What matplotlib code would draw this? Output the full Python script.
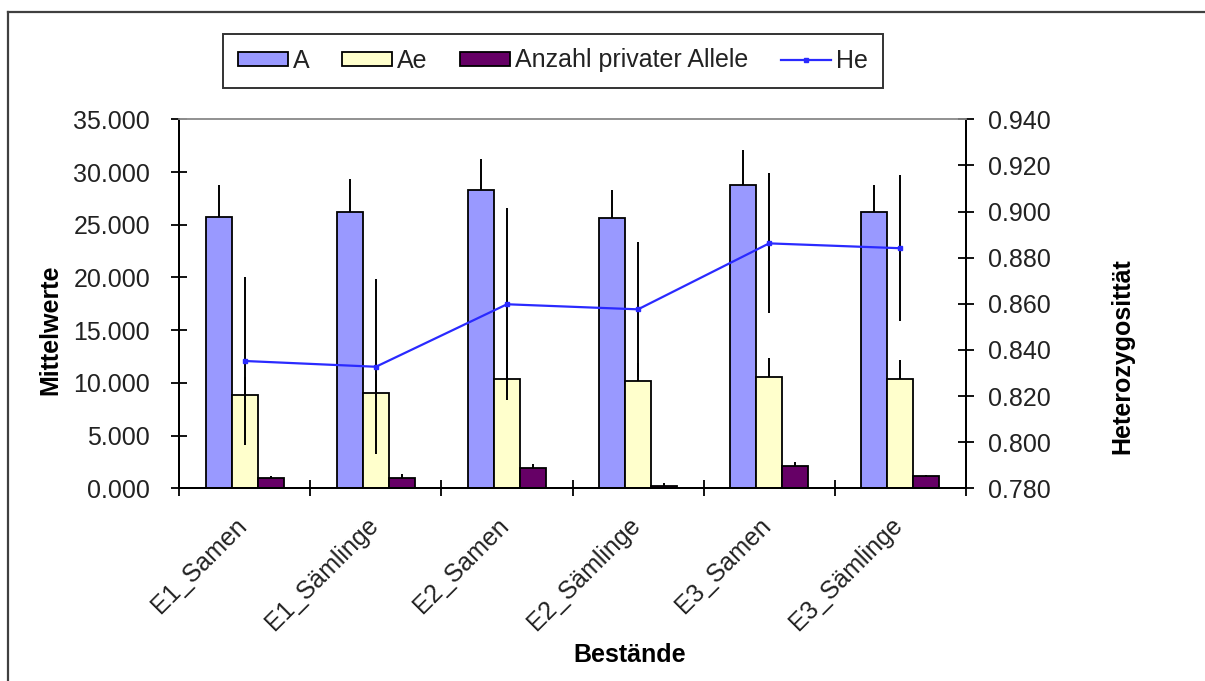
import matplotlib
matplotlib.use("Agg")
import matplotlib.pyplot as plt
import matplotlib.transforms as mtransforms
import numpy as np
from matplotlib.lines import Line2D
from matplotlib.ticker import FormatStrFormatter, FixedLocator

plt.rcParams['font.family'] = ['Liberation Sans', 'DejaVu Sans']

categories = ["E1_Samen", "E1_Sämlinge", "E2_Samen", "E2_Sämlinge", "E3_Samen", "E3_Sämlinge"]
A_vals = [25.78, 26.16, 28.27, 25.62, 28.81, 26.16]
A_err = [3.0, 3.2, 3.0, 2.65, 3.26, 2.65]
Ae_vals = [8.84, 9.03, 10.36, 10.17, 10.58, 10.36]
Ae_err = [1.7, 1.8, 1.8, 1.7, 1.74, 1.77]
priv_vals = [0.98, 0.98, 1.90, 0.22, 2.11, 1.17]
priv_err = [0.22, 0.37, 0.40, 0.25, 0.41, 0.13]
He_vals = [0.8352, 0.8327, 0.8598, 0.8576, 0.8862, 0.8841]
He_err = [0.0364, 0.0380, 0.0416, 0.0293, 0.0304, 0.0317]
left_ticks = [0, 5, 10, 15, 20, 25, 30, 35]
right_ticks = [0.78, 0.80, 0.82, 0.84, 0.86, 0.88, 0.90, 0.92, 0.94]

W, H = 1205, 681
fig = plt.figure(figsize=(W/100, H/100), dpi=100)
fig.patch.set_facecolor('white')

x0, x1, y0, y1 = 179.3, 965.7, 119.3, 488.3
ax = fig.add_axes([x0/W, 1-y1/H, (x1-x0)/W, (y1-y0)/H])
ax2 = ax.twinx()

x = np.arange(len(categories))
bw = 0.2
ec = 'black'
fs = 18

ax.bar(x - bw, A_vals, bw, color='#9999FF', edgecolor=ec, linewidth=1.3, label='A', zorder=2)
ax.bar(x, Ae_vals, bw, color='#FFFFCC', edgecolor=ec, linewidth=1.3, label='Ae', zorder=2)
ax.bar(x + bw, priv_vals, bw, color='#660066', edgecolor=ec, linewidth=1.3, label='Anzahl privater Allele', zorder=2)

zero = [0]*len(categories)
ax.errorbar(x - bw, A_vals, yerr=[zero, A_err], fmt='none', ecolor='black', elinewidth=1.4, capsize=0, zorder=3)
ax.errorbar(x, Ae_vals, yerr=[zero, Ae_err], fmt='none', ecolor='black', elinewidth=1.4, capsize=0, zorder=3)
ax.errorbar(x + bw, priv_vals, yerr=[zero, priv_err], fmt='none', ecolor='black', elinewidth=1.4, capsize=0, zorder=3)

ax2.errorbar(x, He_vals, yerr=He_err, fmt='none', ecolor='black', elinewidth=1.4, capsize=0, zorder=3)
ax2.plot(x, He_vals, color='#2a2aff', linewidth=1.6, marker='s', markersize=3.5, label='He', zorder=4)

ax.set_xlim(-0.5, len(categories) - 0.5)
ax.set_ylim(0, 35)
ax2.set_ylim(0.78, 0.94)
ax.set_yticks(left_ticks)
ax2.set_yticks(right_ticks)
ax.yaxis.set_major_formatter(FormatStrFormatter('%.3f'))
ax2.yaxis.set_major_formatter(FormatStrFormatter('%.3f'))

ax.xaxis.set_major_locator(FixedLocator(np.arange(-0.5, len(categories), 1.0)))
ax.xaxis.set_minor_locator(FixedLocator(x))
ax.set_xticklabels([], minor=False)
ax.set_xticklabels(categories, minor=True, rotation=45, ha='right', rotation_mode='anchor', fontsize=fs, color='#222222')
ax.tick_params(axis='x', which='major', direction='inout', length=12, width=1.3)
ax.tick_params(axis='x', which='minor', length=0, pad=18)
shift = mtransforms.ScaledTranslation(-10/100, 0, fig.dpi_scale_trans)
for lab in ax.get_xticklabels(minor=True):
    lab.set_transform(lab.get_transform() + shift)

ax.tick_params(axis='y', direction='inout', length=12, width=1.3, labelsize=fs, pad=15, labelcolor='#222222')
ax2.tick_params(axis='y', direction='inout', length=12, width=1.3, labelsize=fs, pad=10, labelcolor='#222222')

for a in (ax, ax2):
    a.spines['top'].set_color('#909090')
    a.spines['top'].set_linewidth(1.2)
    for s in ('left', 'right', 'bottom'):
        a.spines[s].set_linewidth(1.4)
        a.spines[s].set_color('black')
    a.set_facecolor('none')

fig.text(50/W, 1-330/H, 'Mittelwerte', rotation=90, ha='center', va='center', fontsize=18, fontweight='bold')
fig.text(1122/W, 1-356/H, 'Heterozygosittät', rotation=90, ha='center', va='center', fontsize=18, fontweight='bold')
fig.text(630/W, 1-655/H, 'Bestände', ha='center', va='center', fontsize=18, fontweight='bold')

h1, l1 = ax.get_legend_handles_labels()
h2, l2 = ax2.get_legend_handles_labels()
leg = fig.legend(h1 + h2, l1 + l2, loc='center', bbox_to_anchor=(553/W, 1-60.5/H), ncol=4,
                 fontsize=fs, frameon=True, fancybox=False, edgecolor='black', borderpad=0.6,
                 handlelength=2.0, handleheight=0.5, handletextpad=0.2, columnspacing=1.3)
leg.get_frame().set_linewidth(1.4)
for t in leg.get_texts():
    t.set_color('#222222')

# outer chart border (left and top edges visible)
fig.add_artist(Line2D([8/W, 8/W], [0, 1-11.5/H], transform=fig.transFigure, color='#404040', linewidth=1.6))
fig.add_artist(Line2D([8/W, 1], [1-11.5/H, 1-11.5/H], transform=fig.transFigure, color='#404040', linewidth=1.6))

fig.savefig('out.png', dpi=100, facecolor='white')
